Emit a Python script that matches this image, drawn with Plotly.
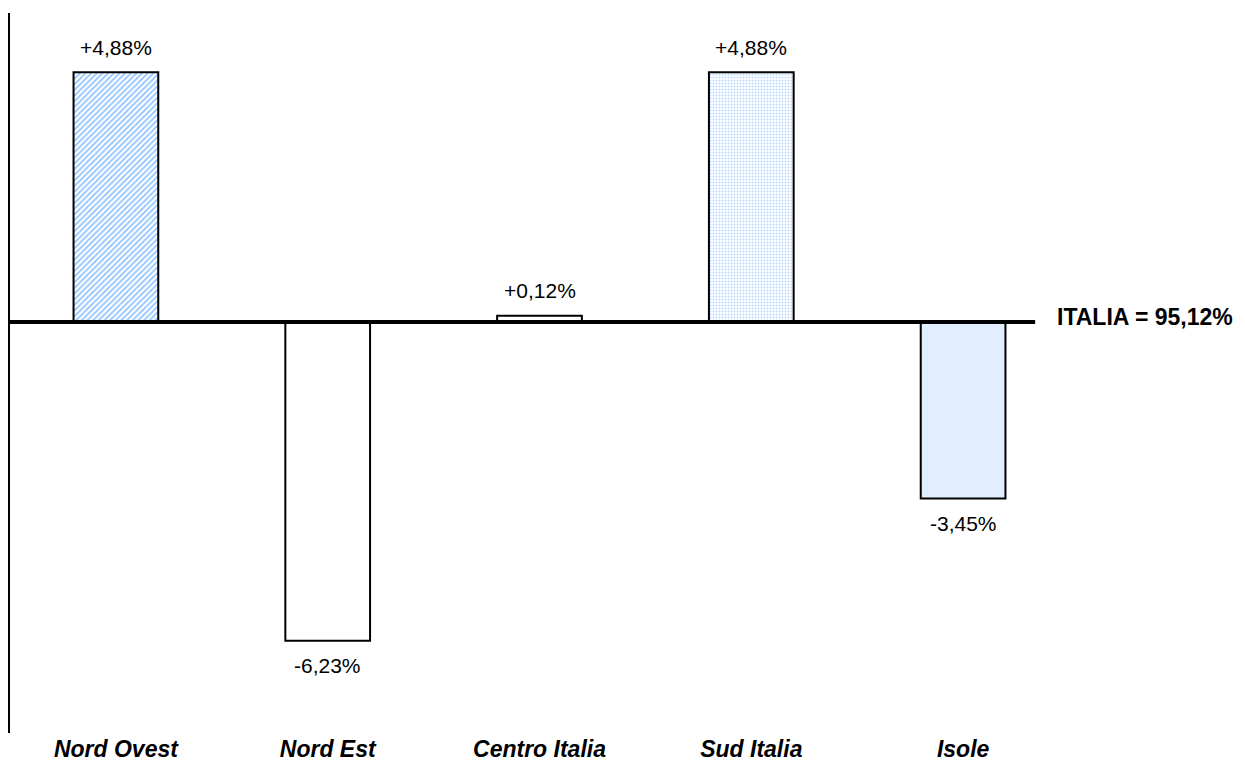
import plotly.graph_objects as go

categories = ["Nord Ovest", "Nord Est", "Centro Italia", "Sud Italia", "Isole"]
values = [4.88, -6.23, 0.12, 4.88, -3.45]
value_labels = ["+4,88%", "-6,23%", "+0,12%", "+4,88%", "-3,45%"]
reference_label = "ITALIA = 95,12%"

bar_colors = ["#8EC3FF", "white", "white", "#BBD9FF", "#B8D7FF"]
pattern_shapes = ["/", "", "", ".", "."]
pattern_size = [4, 8, 8, 3, 2]
pattern_solidity = [0.45, 0.3, 0.3, 0.35, 0.5]

fig = go.Figure()
fig.add_trace(go.Bar(
    x=categories,
    y=values,
    width=0.4,
    marker=dict(
        color=bar_colors,
        line=dict(color="black", width=2),
        pattern=dict(shape=pattern_shapes, bgcolor="white",
                     size=pattern_size, solidity=pattern_solidity, fillmode="replace"),
    ),
    showlegend=False,
))

for cat, val, lab in zip(categories, values, value_labels):
    fig.add_annotation(x=cat, y=val, text=lab, showarrow=False,
                       yshift=25 if val >= 0 else -25, yanchor="middle",
                       font=dict(family="Liberation Sans, Arial", size=21, color="black"))

# zero reference line
fig.add_shape(type="line", xref="x", yref="y", x0=-0.51, x1=4.34, y0=0, y1=0,
              line=dict(color="black", width=4))
fig.add_annotation(xref="paper", yref="y", x=1.0, y=0, text="<b>" + reference_label + "</b>",
                   showarrow=False, xanchor="left", xshift=-14, yshift=5, yanchor="middle",
                   font=dict(family="Liberation Sans, Arial", size=23, color="black"))

fig.update_layout(
    width=1245, height=778,
    margin=dict(l=10, r=176, t=13, b=45),
    paper_bgcolor="white", plot_bgcolor="white",
    xaxis=dict(range=[-0.5, 4.5], showline=False, showgrid=False, zeroline=False,
               ticks="", tickfont=dict(family="Liberation Sans, Arial", size=23, color="black"),
               tickprefix="<b><i>", ticksuffix="</i></b>"),
    yaxis=dict(range=[-8.03, 6.035], showline=True, linecolor="black", linewidth=2,
               showgrid=False, zeroline=False, showticklabels=False, ticks=""),
)

fig.write_html("out.html")
